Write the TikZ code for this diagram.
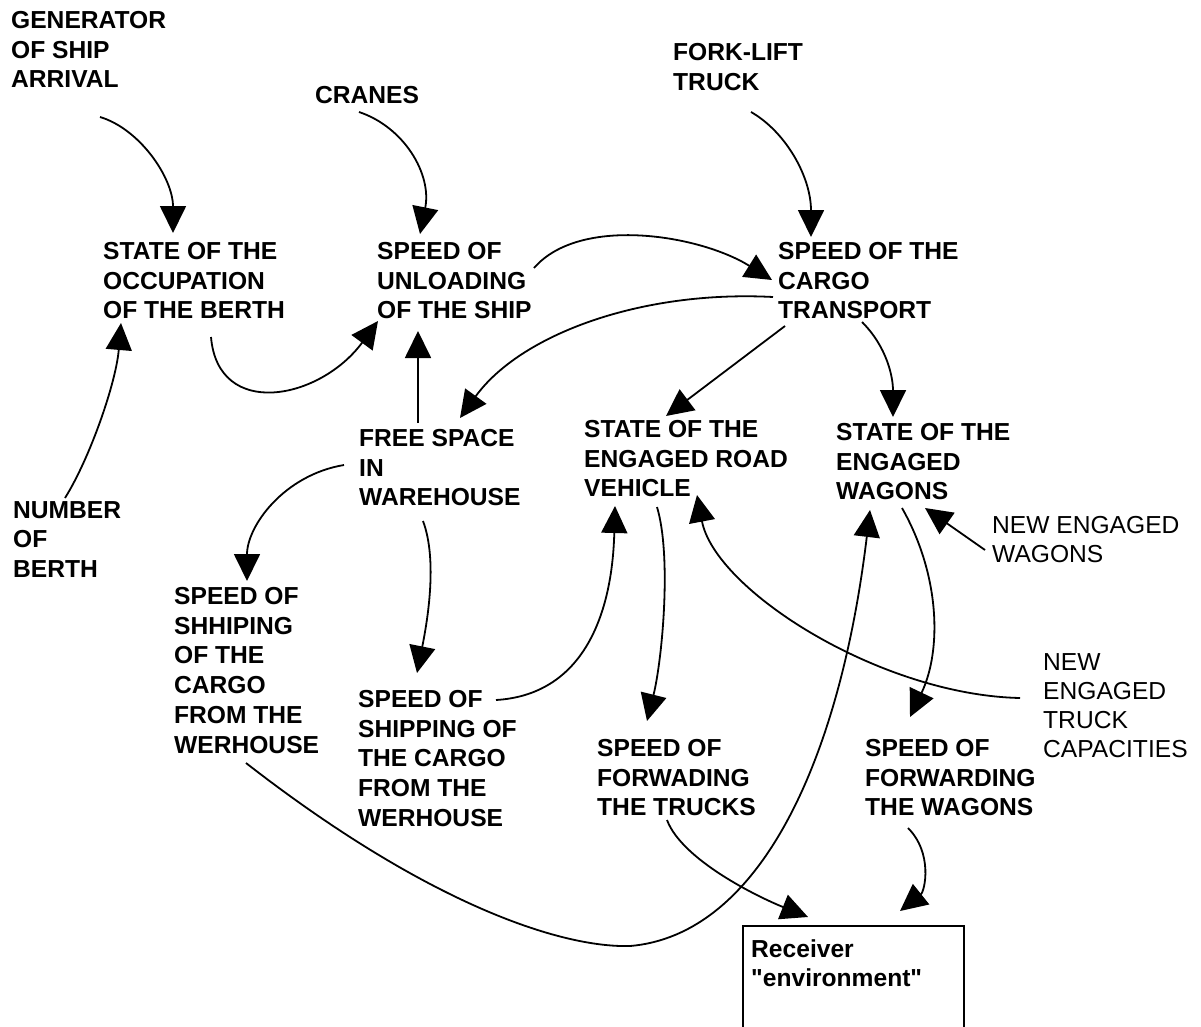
\documentclass[tikz,border=0pt]{standalone}
\usepackage{fontspec}
\setmainfont{Liberation Sans}
\usetikzlibrary{arrows.meta}
\newcommand{\straightquote}{\XeTeXglyph\XeTeXcharglyph"22\relax}
\begin{document}
\begin{tikzpicture}[x=1pt,y=-1pt,
  lbl/.style={anchor=north west, inner sep=0pt, align=left, font=\fontsize{24.6}{29.8}\selectfont\bfseries},
  lblr/.style={anchor=north west, inner sep=0pt, align=left, font=\fontsize{24.6}{29.2}\selectfont},
  conn/.style={line width=1.8pt, -{Triangle[length=27pt,width=26pt]}}]
\useasboundingbox (0,0) rectangle (1201,1027);

% nodes
\node[lbl] (gen) at (11,11) {GENERATOR\\OF SHIP\\ARRIVAL};
\node[lbl] (cranes) at (315,86) {CRANES};
\node[lbl] (fork) at (673,43) {FORK-LIFT\\TRUCK};
\node[lbl] (occ) at (103,242) {STATE OF THE\\OCCUPATION\\OF THE BERTH};
\node[lbl] (unl) at (377,242) {SPEED OF\\UNLOADING\\OF THE SHIP};
\node[lbl] (cargo) at (778,242) {SPEED OF THE\\CARGO\\TRANSPORT};
\node[lbl] (free) at (359,429) {FREE SPACE\\IN\\WAREHOUSE};
\node[lbl] (road) at (584,420) {STATE OF THE\\ENGAGED ROAD\\VEHICLE};
\node[lbl] (wag) at (836,423) {STATE OF THE\\ENGAGED\\WAGONS};
\node[lbl] (num) at (13,501) {NUMBER\\OF\\BERTH};
\node[lblr] (newwag) at (992,516) {NEW ENGAGED\\WAGONS};
\node[lbl] (shh) at (174,587) {SPEED OF\\SHHIPING\\OF THE\\CARGO\\FROM THE\\WERHOUSE};
\node[lbl] (ship) at (358,690) {SPEED OF\\SHIPPING OF\\THE CARGO\\FROM THE\\WERHOUSE};
\node[lblr] (newtruck) at (1043,653) {NEW\\ENGAGED\\TRUCK\\CAPACITIES};
\node[lbl] (trucks) at (597,739) {SPEED OF\\FORWADING\\THE TRUCKS};
\node[lbl] (fwag) at (865,739) {SPEED OF\\FORWARDING\\THE WAGONS};
\node[draw, line width=2pt, anchor=north west, minimum width=221pt, minimum height=140pt, inner sep=0pt] (recv) at (742,925) {};
\node[lbl] (recvtxt) at ([shift={(9,14)}]recv.north west) {Receiver\\\straightquote environment\straightquote};

% connectors
\draw[conn] ([shift={(89,106)}]gen.north west) .. controls +(40,12) and +(0,-55) .. ([shift={(70,-9)}]occ.north west);
\draw[conn] ([shift={(44,26)}]cranes.north west) .. controls +(45,15) and +(12,-60) .. ([shift={(43,-8)}]unl.north west);
\draw[conn] ([shift={(78,69)}]fork.north west) .. controls +(35,20) and +(0,-60) .. ([shift={(33,-5)}]cargo.north west);
\draw[conn] ([shift={(157,26)}]unl.north west) .. controls +(46,-53) and +(-72,-45) .. ([shift={(-6,38)}]cargo.north west);
\draw[conn] ([shift={(108,95)}]occ.north west) .. controls +(7,83) and +(-58,79) .. ([shift={(1,79)}]unl.north west);
\draw[conn] ([shift={(59,-6)}]free.north west) -- ([shift={(41,89)}]unl.north west);
\draw[conn] ([shift={(-5,55)}]cargo.north west) .. controls +(-133,-7) and +(60,-83) .. ([shift={(101,-11)}]free.north west);
\draw[conn] ([shift={(7,84)}]cargo.north west) -- ([shift={(82,-4)}]road.north west);
\draw[conn] ([shift={(84,80)}]cargo.north west) .. controls +(25,25) and +(0,-40) .. ([shift={(57,-6)}]wag.north west);
\draw[conn] ([shift={(52,-3)}]num.north west) .. controls +(25,-40) and +(-5,60) .. ([shift={(18,81)}]occ.north west);
\draw[conn] ([shift={(-15,36)}]free.north west) .. controls +(-60,10) and +(0,-55) .. ([shift={(73,-6)}]shh.north west);
\draw[conn] ([shift={(64,92)}]free.north west) .. controls +(15,40) and +(10,-50) .. ([shift={(59,-17)}]ship.north west);
\draw[conn] ([shift={(138,10)}]ship.north west) .. controls +(84,-5) and +(-3,114) .. ([shift={(31,86)}]road.north west);
\draw[conn] ([shift={(73,87)}]road.north west) .. controls +(15,50) and +(15,-60) .. ([shift={(50,-18)}]trucks.north west);
\draw[conn] ([shift={(-23,45)}]newtruck.north west) .. controls +(-140,-3) and +(18,95) .. ([shift={(113,75)}]road.north west);
\draw[conn] ([shift={(72,176)}]shh.north west) .. controls +(180,140) and +(-70,2) .. ([shift={(-112,21)}]recv.north west)
   .. controls +(130,-11) and +(-30,250) .. ([shift={(34,87)}]wag.north west);
\draw[conn] ([shift={(66,85)}]wag.north west) .. controls +(38,67) and +(32,-67) .. ([shift={(45,-22)}]fwag.north west);
\draw[conn] ([shift={(-7,34)}]newwag.north west) -- ([shift={(89,85)}]wag.north west);
\draw[conn] ([shift={(70,81)}]trucks.north west) .. controls +(15,40) and +(-50,-20) .. ([shift={(66,-8)}]recv.north west);
\draw[conn] ([shift={(43,89)}]fwag.north west) .. controls +(25,25) and +(25,-20) .. ([shift={(158,-14)}]recv.north west);
\end{tikzpicture}
\end{document}
